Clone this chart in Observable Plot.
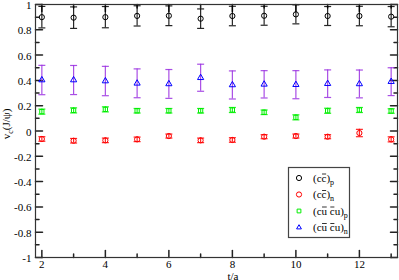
<!DOCTYPE html>
<html><head><meta charset="utf-8">
<script src="https://cdn.jsdelivr.net/npm/d3@7"></script>
<script src="https://cdn.jsdelivr.net/npm/@observablehq/plot@0.6"></script>
<style>body{margin:0;background:#fff} svg{display:block}</style>
</head><body><div id="chart"></div>
<script>
// ---- data ----
const t = [2,3,4,5,6,7,8,9,10,11,12,13];
const ccP     = [0.900,0.896,0.900,0.910,0.911,0.888,0.909,0.911,0.922,0.909,0.909,0.904];
const ccPerr  = [0.085,0.085,0.084,0.080,0.078,0.077,0.077,0.075,0.075,0.075,0.077,0.080];
const ccN     = [-0.063,-0.077,-0.074,-0.066,-0.040,-0.074,-0.071,-0.045,-0.040,-0.045,-0.016,-0.066];
const ccNerr  = [0.018,0.018,0.018,0.018,0.016,0.018,0.018,0.016,0.016,0.016,0.029,0.020];
const cuP     = [0.153,0.163,0.171,0.160,0.160,0.160,0.166,0.148,0.108,0.160,0.166,0.158];
const cuPerr  = [0.020,0.020,0.020,0.018,0.018,0.018,0.020,0.018,0.020,0.020,0.020,0.018];
const cuN     = [0.403,0.403,0.395,0.377,0.372,0.421,0.364,0.369,0.366,0.374,0.372,0.390];
const cuNerr  = [0.116,0.115,0.116,0.114,0.114,0.107,0.111,0.108,0.111,0.109,0.110,0.110];
const xMajor = [2,4,6,8,10,12];
const xMinor = [3,5,7,9,11,13];
const yMajor = [-1,-0.8,-0.6,-0.4,-0.2,0,0.2,0.4,0.6,0.8,1];
const yMinor = [-0.9,-0.7,-0.5,-0.3,-0.1,0.1,0.3,0.5,0.7,0.9];
const legendText = ["(cc)", "(cc)", "(cu cu)", "(cu cu)"];
const legendBars = [[2], [2], [2, 4], [2, 4]];   // indices of characters carrying an overline
const seriesNames = ["p","n","p","n"];

const series = [
  {v: ccP, e: ccPerr, color: "#000000", bar: "#000000", symbol: "circle", r: 2.6},
  {v: ccN, e: ccNerr, color: "#ff0000", bar: "#ff0000", symbol: "circle", r: 2.6},
  {v: cuP, e: cuPerr, color: "#00ee00", bar: "#00ee00", symbol: "square", r: 2.4},
  {v: cuN, e: cuNerr, color: "#0000ff", bar: "#9a2fe0", symbol: "triangle", r: 2.3}
];
const rows = series.flatMap((s, si) => t.map((x, i) => ({
  x, y: s.v[i], lo: s.v[i] - s.e[i], hi: s.v[i] + s.e[i],
  color: s.color, bar: s.bar, symbol: s.symbol, r: s.r, si
})));

const hline = {draw(ctx, size){ const w = Math.sqrt(size/Math.PI); ctx.moveTo(-w,0); ctx.lineTo(w,0); }};
const tickShape = {draw(ctx, l){ ctx.moveTo(0,0); ctx.lineTo(0,-l); }};
const X0 = 1.8, X1 = 13.2;
const fmt = d => String(Math.round(d*10)/10);

const marks = [
  // ticks inward on all four sides
  Plot.vector(yMajor, {x: X0, y: d=>d, length: 7, rotate: 90, anchor: "start", shape: tickShape, stroke: "#222"}),
  Plot.vector(yMinor, {x: X0, y: d=>d, length: 3.5, rotate: 90, anchor: "start", shape: tickShape, stroke: "#222"}),
  Plot.vector(yMajor, {x: X1, y: d=>d, length: 7, rotate: -90, anchor: "start", shape: tickShape, stroke: "#222"}),
  Plot.vector(yMinor, {x: X1, y: d=>d, length: 3.5, rotate: -90, anchor: "start", shape: tickShape, stroke: "#222"}),
  Plot.vector(xMajor, {x: d=>d, y: -1, length: 7, rotate: 0, anchor: "start", shape: tickShape, stroke: "#222"}),
  Plot.vector(xMinor, {x: d=>d, y: -1, length: 3.5, rotate: 0, anchor: "start", shape: tickShape, stroke: "#222"}),
  Plot.vector(xMajor, {x: d=>d, y: 1, length: 7, rotate: 180, anchor: "start", shape: tickShape, stroke: "#222"}),
  Plot.vector(xMinor, {x: d=>d, y: 1, length: 3.5, rotate: 180, anchor: "start", shape: tickShape, stroke: "#222"}),
  // error bars
  Plot.ruleX(rows, {x: "x", y1: "lo", y2: "hi", stroke: "bar", strokeWidth: 1.2, strokeOpacity: 0.85}),
  Plot.dot(rows, {x: "x", y: "lo", symbol: hline, r: 3.5, stroke: "bar", strokeWidth: 1.2, strokeOpacity: 0.85}),
  Plot.dot(rows, {x: "x", y: "hi", symbol: hline, r: 3.5, stroke: "bar", strokeWidth: 1.2, strokeOpacity: 0.85}),
  // points
  Plot.dot(rows, {x: "x", y: "y", symbol: "symbol", r: "r", stroke: "color", fill: "none", strokeWidth: 1}),
  Plot.frame({stroke: "#333", strokeWidth: 1.2}),
  Plot.axisY(yMajor, {tickSize: 0, tickPadding: 4, tickFormat: fmt, label: null, fontSize: 11, dy: 1}),
  Plot.axisX(xMajor, {tickSize: 0, tickPadding: 3, tickFormat: fmt, label: null, fontSize: 11})
];

const svg = Plot.plot({
  width: 399, height: 280,
  marginLeft: 35, marginRight: 2, marginTop: 4, marginBottom: 23,
  x: {domain: [X0, X1]},
  y: {domain: [-1, 1]},
  r: {type: "identity"},
  color: {type: "identity"},
  symbol: {type: "identity"},
  style: {fontFamily: "Liberation Serif", fontSize: "11px", background: "#fff", color: "#000"},
  marks
});
document.getElementById("chart").appendChild(svg);

// ---- axis titles & legend ----
const s = d3.select(svg);
const ff = "Liberation Serif";
const yl = s.append("text").attr("transform", "translate(10,124) rotate(-90)")
  .attr("text-anchor", "middle").attr("font-family", ff).attr("font-size", 11).attr("fill", "#000");
yl.append("tspan").text("v");
yl.append("tspan").attr("font-size", 8).attr("dy", 3).text("c");
yl.append("tspan").attr("dy", -3).text("(J/ψ)");
s.append("text").attr("x", 233).attr("y", 279.5).attr("text-anchor", "middle")
  .attr("font-family", ff).attr("font-size", 11).attr("fill", "#000").text("t/a");

const lg = s.append("g").attr("text-anchor", "start");
lg.append("rect").attr("x", 288.5).attr("y", 167.5).attr("width", 61).attr("height", 70)
  .attr("fill", "#fff").attr("stroke", "#444").attr("stroke-width", 1.2);
const symMap = {circle: d3.symbolCircle, square: d3.symbolSquare2, triangle: d3.symbolTriangle2};
series.forEach((sr, i) => {
  const cy = 178 + i*16.5;
  const base = cy + 3.5;
  lg.append("path").attr("d", d3.symbol(symMap[sr.symbol], sr.r*sr.r*Math.PI)())
    .attr("transform", `translate(299,${cy})`).attr("fill", "none").attr("stroke", sr.color);
  const tx = lg.append("text").attr("x", 313).attr("y", base).attr("text-anchor", "start")
    .attr("font-family", ff).attr("font-size", 11).attr("fill", "#000");
  tx.append("tspan").text(legendText[i]);
  tx.append("tspan").attr("font-size", 8).attr("dy", 3).text(seriesNames[i]);
  const node = tx.node();
  legendBars[i].forEach(ci => {
    const a = node.getStartPositionOfChar(ci);
    const b = node.getEndPositionOfChar(ci);
    lg.append("line").attr("x1", a.x + 0.5).attr("x2", b.x - 0.3)
      .attr("y1", base - 7.5).attr("y2", base - 7.5).attr("stroke", "#000").attr("stroke-width", 0.8);
  });
});
</script>
</body></html>
